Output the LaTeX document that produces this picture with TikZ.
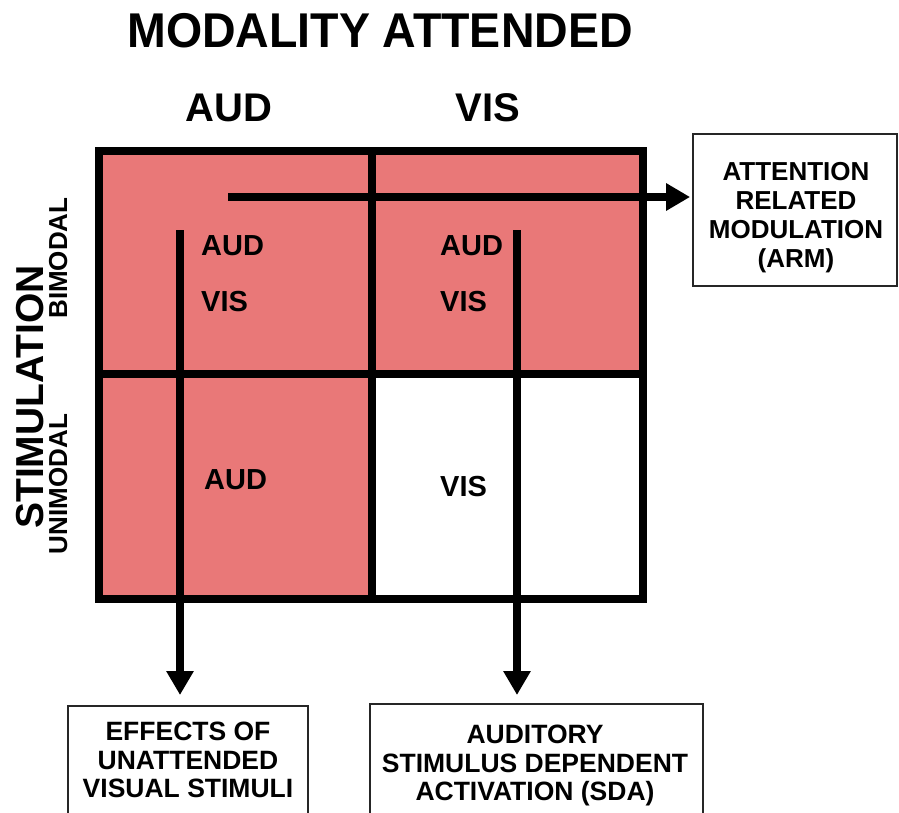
\documentclass[tikz,border=0pt]{standalone}
\usepackage{fontspec}
\setmainfont{Liberation Sans}
\usetikzlibrary{arrows.meta}
\definecolor{cellred}{RGB}{233,120,120}
\newcommand\fs[2]{\fontsize{#1}{#2}\selectfont\bfseries}
\begin{document}
\begin{tikzpicture}[x=1pt,y=-1pt,
  titletext/.style={font=\fs{46.5}{50}, anchor=base, inner sep=0pt},
  headtext/.style={font=\fs{40}{44}, anchor=base, inner sep=0pt},
  sidetext/.style={font=\fs{39}{42}, anchor=base, rotate=90, inner sep=0pt},
  subtext/.style={font=\fs{26}{28}, anchor=base, rotate=90, inner sep=0pt},
  celltext/.style={font=\fs{29}{32}, anchor=base west, inner sep=0pt},
  frame/.style={draw=black!85, line width=1.8pt, fill=white, inner sep=0pt},
  boxtext/.style={align=center, anchor=north, inner sep=0pt},
  gridline/.style={line width=8pt},
  bigarrow/.style={line width=8pt, -{Triangle[length=24pt,width=26pt]}}]
\useasboundingbox (0,0) rectangle (899,813);
\clip (0,0) rectangle (899,813);

% shaded cells of the 2x2 table
\fill[cellred] (99,151) rectangle (643,374);
\fill[cellred] (99,374) rectangle (372,599);

% table frame and dividers
\draw[gridline] (99,151) rectangle (643,599);
\draw[gridline] (372,151) -- (372,599);
\draw[gridline] (99,374) -- (643,374);

% headings
\node[titletext] (title) at (380,48) {\scalebox{1}[1.05]{MODALITY ATTENDED}};
\node[headtext] (hAud) at (229,122) {AUD};
\node[headtext] (hVis) at (488,122) {VIS};
\node[sidetext] (stim) at (43,397) {STIMULATION};
\node[subtext] (bimodal) at (67,258) {BIMODAL};
\node[subtext] (unimodal) at (67,484) {UNIMODAL};

% cell contents
\node[celltext] (c1a) at (201,255) {AUD};
\node[celltext] (c1v) at (201,311) {VIS};
\node[celltext] (c2a) at (440,255) {AUD};
\node[celltext] (c2v) at (440,311) {VIS};
\node[celltext] (c3a) at (204,489) {AUD};
\node[celltext] (c4v) at (440,496) {VIS};

% outcome boxes
\node[frame, minimum width=204pt, minimum height=152pt] (arm) at (795,210) {};
\node[boxtext, font=\fs{26}{29}] (armtext) at (796,162)
  {ATTENTION\\RELATED\\MODULATION\\(ARM)};
\node[frame, anchor=north, minimum width=240pt, minimum height=140pt] (effects) at (188,705) {};
\node[boxtext, font=\fs{26.5}{28.5}] (efftext) at (188,722)
  {EFFECTS OF\\UNATTENDED\\VISUAL STIMULI};
\node[frame, anchor=north, minimum width=333pt, minimum height=140pt] (sda) at (536.5,703) {};
\node[boxtext, font=\fs{26.5}{28.5}] (sdatext) at (535,725)
  {AUDITORY\\STIMULUS DEPENDENT\\ACTIVATION (SDA)};

% arrows
\coordinate (armstart) at (228,197);
\coordinate (effstart) at (180,230);
\coordinate (sdastart) at (517,230);
\draw[bigarrow, shorten >=2pt] (armstart) -- (armstart -| arm.west);
\draw[bigarrow, shorten >=10pt] (effstart) -- (effstart |- effects.north);
\draw[bigarrow, shorten >=8pt] (sdastart) -- (sdastart |- sda.north);
\end{tikzpicture}
\end{document}
